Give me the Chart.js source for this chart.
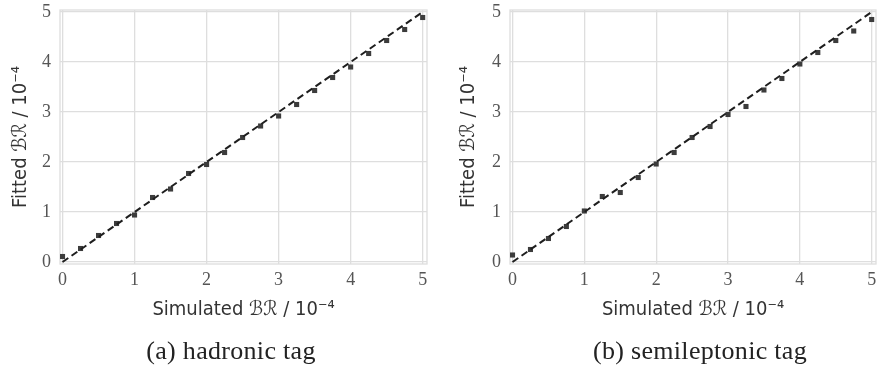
<!DOCTYPE html>
<html>
<head>
<meta charset="utf-8">
<script src="https://cdn.jsdelivr.net/npm/chart.js@4/dist/chart.umd.min.js"></script>
<style>
  html, body { margin: 0; padding: 0; background: #ffffff; }
  #wrap { position: relative; width: 880px; height: 368px; overflow: hidden; }
  .panel { position: absolute; top: 0; width: 440px; height: 368px; }
  .caption { position: absolute; font-family: "Liberation Serif", "DejaVu Serif", serif; font-size: 26px; letter-spacing: 0.3px; color: #222; white-space: nowrap; transform: translate(-50%, -50%); }
</style>
</head>
<body>
<div id="wrap">
  <div class="panel" style="left:0px"><canvas id="c1" width="440" height="368"></canvas></div>
  <div class="panel" style="left:440px"><canvas id="c2" width="440" height="368"></canvas></div>
  <div class="caption" id="cap1" style="left:231px; top:351px;">(a) hadronic tag</div>
  <div class="caption" id="cap2" style="left:700px; top:351px;">(b) semileptonic tag</div>
</div>
<script>
// ---- data ----
const simulatedBR = [0, 0.25, 0.5, 0.75, 1, 1.25, 1.5, 1.75, 2, 2.25, 2.5, 2.75, 3, 3.25, 3.5, 3.75, 4, 4.25, 4.5, 4.75, 5];
const fittedHadronic = [0.11, 0.27, 0.53, 0.77, 0.94, 1.29, 1.46, 1.77, 1.95, 2.19, 2.49, 2.72, 2.92, 3.15, 3.43, 3.69, 3.90, 4.17, 4.43, 4.65, 4.89];
const fittedSemileptonic = [0.14, 0.25, 0.47, 0.71, 1.02, 1.31, 1.39, 1.69, 1.96, 2.19, 2.49, 2.71, 2.95, 3.11, 3.44, 3.67, 3.96, 4.19, 4.43, 4.62, 4.85];
const diagonalEnds = [0, 5];
const xTickValues = [0, 1, 2, 3, 4, 5];
const yTickValues = [0, 1, 2, 3, 4, 5];
const xAxisTitle = "Simulated \u212C\u211B / 10\u207B\u2074";
const yAxisTitle = "Fitted \u212C\u211B / 10\u207B\u2074";

const gridColor = "#dedede";
const tickFont = { family: "'Liberation Serif', 'DejaVu Serif', serif", size: 18 };
const titleFont = { family: "'DejaVu Sans Condensed', 'Liberation Sans Narrow', 'DejaVu Sans', sans-serif", size: 20 };

const framePlugin = {
  id: 'frame',
  beforeDatasetsDraw(chart) {
    const a = chart.chartArea, ctx = chart.ctx;
    ctx.save();
    ctx.strokeStyle = gridColor;
    ctx.lineWidth = 1.3;
    ctx.strokeRect(a.left, a.top, a.right - a.left, a.bottom - a.top);
    ctx.restore();
  }
};

function makeChart(id, fitted, pad) {
  const pts = simulatedBR.map((x, i) => ({ x: x, y: fitted[i] }));
  const diag = diagonalEnds.map(v => ({ x: v, y: v }));
  return new Chart(document.getElementById(id), {
    type: 'scatter',
    data: {
      datasets: [
        {
          label: 'fitted',
          data: pts,
          pointStyle: 'rect',
          pointRadius: 3.6,
          backgroundColor: '#3c3c3c',
          borderColor: '#3c3c3c',
          borderWidth: 0,
          showLine: false,
          order: 2
        },
        {
          label: 'ideal',
          data: diag,
          showLine: true,
          pointRadius: 0,
          borderColor: '#1e1e1e',
          borderWidth: 2,
          borderDash: [7, 4],
          fill: false,
          order: 1
        }
      ]
    },
    options: {
      responsive: false,
      animation: false,
      events: [],
      layout: { padding: { left: pad.left, right: pad.right, top: 10, bottom: 46 } },
      plugins: { legend: { display: false }, tooltip: { enabled: false } },
      scales: {
        x: {
          type: 'linear',
          min: -0.035,
          max: 5.06,
          afterBuildTicks: s => { s.ticks = xTickValues.map(v => ({ value: v })); },
          afterFit: s => { s.height = 58; s.paddingLeft = 0; s.paddingRight = 0; },
          grid: { color: gridColor, lineWidth: 1.3, drawTicks: false },
          border: { display: false },
          ticks: { font: tickFont, color: '#555', padding: 5 },
          title: { display: true, text: xAxisTitle, font: titleFont, color: '#333', padding: { top: 0, bottom: 0 } }
        },
        y: {
          type: 'linear',
          min: -0.04,
          max: 5.04,
          afterBuildTicks: s => { s.ticks = yTickValues.map(v => ({ value: v })); },
          afterFit: s => { s.width = pad.axisW; s.paddingTop = 0; s.paddingBottom = 0; },
          grid: { color: gridColor, lineWidth: 1.3, drawTicks: false },
          border: { display: false },
          ticks: { font: tickFont, color: '#555', padding: 9 },
          title: { display: true, text: yAxisTitle, font: titleFont, color: '#333', padding: { top: 0, bottom: 0 } }
        }
      }
    },
    plugins: [framePlugin]
  });
}

makeChart('c1', fittedHadronic, { left: 9, right: 13, axisW: 51 });
makeChart('c2', fittedSemileptonic, { left: 17, right: 4, axisW: 53 });
</script>
</body>
</html>
